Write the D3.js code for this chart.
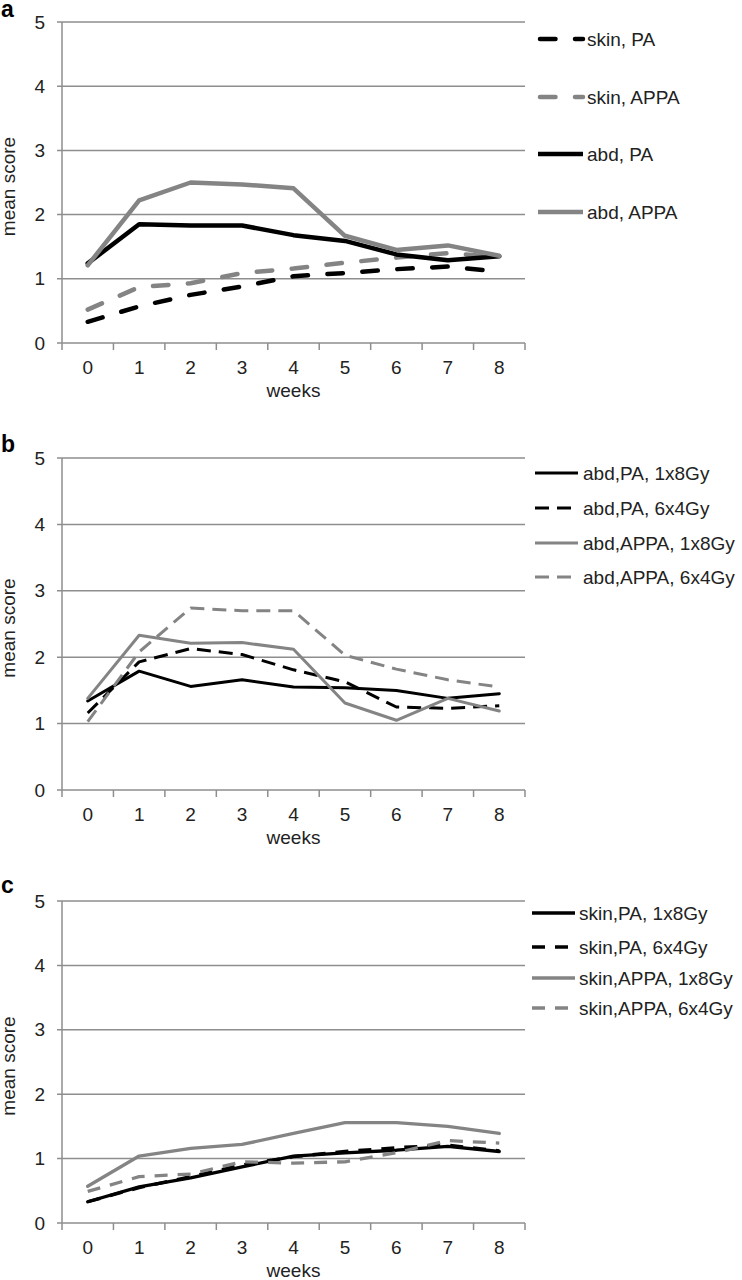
<!DOCTYPE html>
<html><head><meta charset="utf-8">
<script src="https://cdn.jsdelivr.net/npm/d3@7"></script>
<style>body{margin:0;background:#fff}svg{display:block}text{font-family:"Liberation Sans",Arial,sans-serif;fill:#222}</style>
</head><body><svg id="c" width="742" height="1280"></svg>
<script>
const weeks = ["0","1","2","3","4","5","6","7","8"];
const yTicks = [0,1,2,3,4,5];

// panel a
const aNames = ["skin, PA","skin, APPA","abd, PA","abd, APPA"];
const aSkinPA   = [0.33,0.57,0.75,0.88,1.04,1.09,1.15,1.19,1.11];
const aSkinAPPA = [0.52,0.87,0.93,1.09,1.16,1.25,1.33,1.40,1.34];
const aAbdPA    = [1.24,1.85,1.83,1.83,1.68,1.59,1.38,1.29,1.35];
const aAbdAPPA  = [1.21,2.22,2.50,2.47,2.41,1.67,1.45,1.52,1.36];

// panel b
const bNames = ["abd,PA, 1x8Gy","abd,PA, 6x4Gy","abd,APPA, 1x8Gy","abd,APPA, 6x4Gy"];
const bPA1   = [1.34,1.79,1.56,1.66,1.55,1.54,1.50,1.38,1.45];
const bPA6   = [1.16,1.93,2.13,2.04,1.81,1.63,1.25,1.23,1.27];
const bAPPA1 = [1.38,2.33,2.21,2.22,2.12,1.31,1.05,1.38,1.19];
const bAPPA6 = [1.03,2.08,2.74,2.70,2.70,2.03,1.82,1.66,1.55];

// panel c
const cNames = ["skin,PA, 1x8Gy","skin,PA, 6x4Gy","skin,APPA, 1x8Gy","skin,APPA, 6x4Gy"];
const cPA1   = [0.33,0.56,0.70,0.87,1.04,1.09,1.13,1.19,1.11];
const cPA6   = [0.33,0.55,0.72,0.90,1.03,1.11,1.17,1.21,1.12];
const cAPPA1 = [0.57,1.04,1.16,1.22,1.39,1.56,1.56,1.50,1.39];
const cAPPA6 = [0.49,0.72,0.76,0.95,0.93,0.95,1.09,1.28,1.24];

const BLACK = "#000", GRAY = "#848484", GRID = "#8e8e8e";
const svg = d3.select("#c");

const panels = [
  {letter:"a", top:22, bottom:343, letterY:17, lx0:538, lx1:583, tx:587, rows:[39,97,154,212], width:4.5, dash:"15.5,19.5", cap:"round",
   names:aNames, series:[aSkinPA,aSkinAPPA,aAbdPA,aAbdAPPA], colors:[BLACK,GRAY,BLACK,GRAY], dashed:[true,true,false,false]},
  {letter:"b", top:458, bottom:790, letterY:452, lx0:535, lx1:578, tx:583, rows:[473,508,543,577], width:3, dash:"14,8", cap:"butt",
   names:bNames, series:[bPA1,bPA6,bAPPA1,bAPPA6], colors:[BLACK,BLACK,GRAY,GRAY], dashed:[false,true,false,true]},
  {letter:"c", top:901, bottom:1223, letterY:893, lx0:532, lx1:575, tx:579, rows:[913,947,978,1008], width:3.3, dash:"13,10", cap:"butt",
   names:cNames, series:[cPA1,cPA6,cAPPA1,cAPPA6], colors:[BLACK,BLACK,GRAY,GRAY], dashed:[false,true,false,true]}
];

const x0 = 62, x1 = 525;
panels.forEach(p => {
  const g = svg.append("g");
  const x = d3.scaleBand().domain(weeks).range([x0, x1]);
  const y = d3.scaleLinear().domain([0,5]).range([p.bottom, p.top]);

  // gridlines
  g.selectAll(".grid").data(yTicks).join("line")
    .attr("x1", x0-5).attr("x2", x1).attr("y1", d=>y(d)).attr("y2", d=>y(d))
    .attr("stroke", GRID).attr("stroke-width", 1.5);
  // y axis line
  g.append("line").attr("x1", x0).attr("x2", x0).attr("y1", y(5)).attr("y2", y(0))
    .attr("stroke", GRID).attr("stroke-width", 1.5);
  // x ticks at band edges
  const edges = weeks.map(w => x(w)).concat([x1]);
  g.selectAll(".xt").data(edges).join("line")
    .attr("x1", d=>d).attr("x2", d=>d).attr("y1", y(0)).attr("y2", y(0)+7)
    .attr("stroke", GRID).attr("stroke-width", 1.5);
  // y tick labels
  g.selectAll(".yl").data(yTicks).join("text")
    .attr("x", 45).attr("y", d=>y(d)).attr("dy","0.35em").attr("text-anchor","end")
    .attr("font-size", 19).text(d=>d);
  // x tick labels
  g.selectAll(".xl").data(weeks).join("text")
    .attr("x", d=>x(d)+x.bandwidth()/2).attr("y", y(0)+24).attr("dy","0.35em")
    .attr("text-anchor","middle").attr("font-size", 19).text(d=>d);
  // axis titles
  g.append("text").attr("x", (x0+x1)/2).attr("y", y(0)+47).attr("dy","0.35em")
    .attr("text-anchor","middle").attr("font-size", 19).text("weeks");
  g.append("text").attr("transform", `translate(8,${(y(0)+y(5))/2+4}) rotate(-90)`)
    .attr("dy","0.35em").attr("text-anchor","middle").attr("font-size", 19).text("mean score");
  // panel letter
  g.append("text").attr("x", 1).attr("y", p.letterY).attr("font-size", 23)
    .attr("font-weight","bold").style("fill","#000").text(p.letter);

  // lines
  const line = d3.line().x((d,i)=>x(weeks[i])+x.bandwidth()/2).y(d=>y(d));
  p.series.forEach((s,k) => {
    g.append("path").datum(s).attr("d", line).attr("fill","none")
      .attr("stroke", p.colors[k]).attr("stroke-width", p.width)
      .attr("stroke-linejoin","round")
      .attr("stroke-linecap", p.dashed[k] ? p.cap : "round")
      .attr("stroke-dasharray", p.dashed[k] ? p.dash : null);
  });
  // legend
  p.names.forEach((n,k) => {
    const ry = p.rows[k];
    g.append("line").attr("x1", p.lx0 + (p.cap==="round" && p.dashed[k] ? 2 : 0)).attr("x2", p.lx1)
      .attr("y1", ry).attr("y2", ry).attr("stroke", p.colors[k]).attr("stroke-width", p.width)
      .attr("stroke-linecap", p.dashed[k] ? p.cap : "butt")
      .attr("stroke-dasharray", p.dashed[k] ? p.dash : null);
    g.append("text").attr("x", p.tx).attr("y", ry).attr("dy","0.35em")
      .attr("font-size", 19).text(n);
  });
});
</script></body></html>
